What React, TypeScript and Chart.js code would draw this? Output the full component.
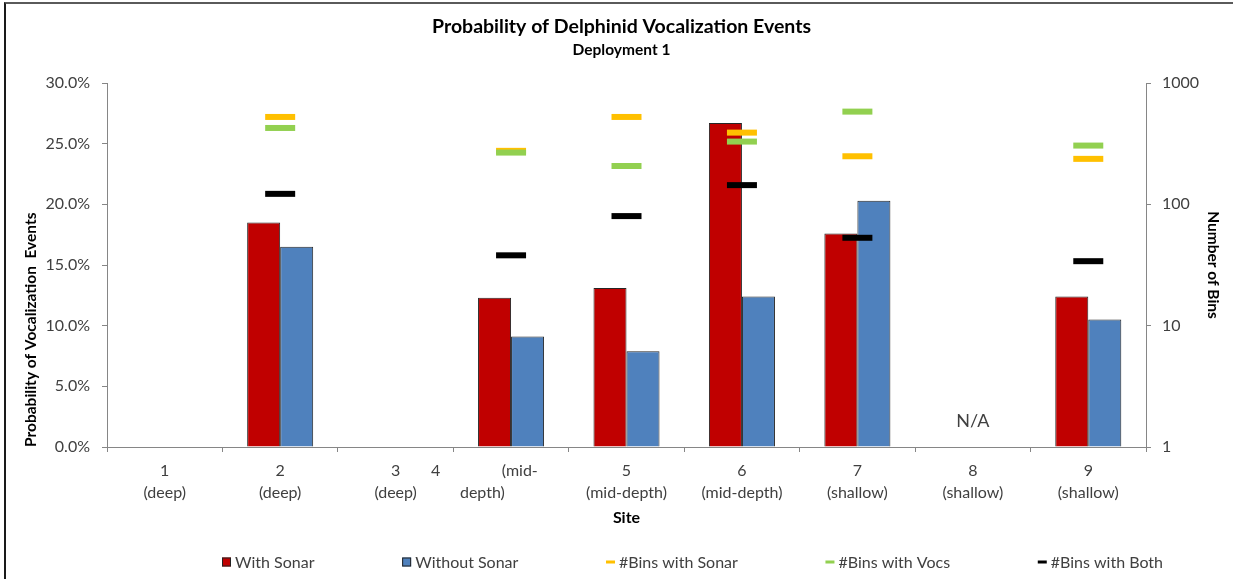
import { useEffect, useRef } from 'react';
import { Chart, registerables } from 'chart.js';

Chart.register(...registerables);

const SITE_LABELS: string[][] = [
  ['1', '(deep)'],
  ['2', '(deep)'],
  ['3', '(deep)'],
  ['4               (mid-             ', 'depth)              '],
  ['5', '(mid-depth)'],
  ['6', '(mid-depth)'],
  ['7', '(shallow)'],
  ['8', '(shallow)'],
  ['9', '(shallow)'],
];
const WITH_SONAR = [null, 18.5, null, 12.3, 13.1, 26.7, 17.6, null, 12.4];
const WITHOUT_SONAR = [null, 16.5, null, 9.1, 7.9, 12.4, 20.3, null, 10.5];
const BINS_WITH_SONAR = [null, 525, null, 276, 525, 390, 249, null, 237];
const BINS_WITH_VOCS = [null, 426, null, 267, 207, 329, 581, null, 305];
const BINS_WITH_BOTH = [null, 122, null, 38, 80, 144, 53, null, 34];
const LEFT_TICKS = [0, 5, 10, 15, 20, 25, 30];
const RIGHT_TICKS = [1, 10, 100, 1000];
const NA_SITE_INDEX = 7;
const NA_TEXT = 'N/A';
const NA_LEVEL = 2.1;

const FONT = 'Lato, "Open Sans", sans-serif';
const TEXT = '#404040';
const AXIS = '#868686';

const overlayPlugin = {
  id: 'overlay',
  afterDraw(chart: any) {
    const { ctx, scales } = chart;
    ctx.save();
    // N/A label
    ctx.font = `18px ${FONT}`;
    ctx.fillStyle = TEXT;
    ctx.textAlign = 'center';
    ctx.textBaseline = 'middle';
    ctx.fillText(NA_TEXT, scales.x.getPixelForValue(NA_SITE_INDEX), scales.y.getPixelForValue(NA_LEVEL));

    // legend
    const ds = chart.data.datasets;
    ctx.font = `16px ${FONT}`;
    const box = 9;
    const gap = 4;
    const widths = ds.map((d: any) => box + gap + ctx.measureText(d.label).width);
    const startX = 222;
    const endX = 1163;
    const total = widths.reduce((a: number, b: number) => a + b, 0);
    const pad = (endX - startX - total) / (ds.length - 1);
    const cy = 562;
    let x = startX;
    ds.forEach((d: any, i: number) => {
      if (d.type === 'bar' || !d.type) {
        ctx.fillStyle = d.backgroundColor;
        ctx.fillRect(x, cy - box / 2, box, box);
        ctx.strokeStyle = '#222';
        ctx.lineWidth = 1;
        ctx.strokeRect(x + 0.5, cy - box / 2 + 0.5, box - 1, box - 1);
      } else {
        ctx.fillStyle = d.pointBorderColor;
        ctx.fillRect(x, cy - 1.5, box, 3);
      }
      ctx.fillStyle = TEXT;
      ctx.textAlign = 'left';
      ctx.textBaseline = 'middle';
      ctx.fillText(d.label, x + box + gap, cy + 1);
      x += widths[i] + pad;
    });
    ctx.restore();
  },
};

function dash(label: string, data: (number | null)[], color: string, order: number) {
  return {
    type: 'line' as const,
    label,
    data,
    yAxisID: 'y1',
    showLine: false,
    order,
    pointStyle: 'line',
    pointRadius: 15,
    pointHoverRadius: 15,
    pointBorderWidth: 6,
    pointHoverBorderWidth: 6,
    pointBorderColor: color,
    pointBackgroundColor: color,
    borderColor: color,
    backgroundColor: color,
  };
}

export default function App() {
  const ref = useRef<HTMLCanvasElement | null>(null);

  useEffect(() => {
    document.body.style.margin = '0';
    const canvas = ref.current;
    if (!canvas) return;
    const chart = new Chart(canvas, {
      type: 'bar',
      data: {
        labels: SITE_LABELS,
        datasets: [
          {
            type: 'bar',
            label: 'With Sonar',
            data: WITH_SONAR,
            yAxisID: 'y',
            backgroundColor: '#C00000',
            borderColor: '#262626',
            borderWidth: 1,
            order: 10,
            categoryPercentage: 0.572,
            barPercentage: 1,
          },
          {
            type: 'bar',
            label: 'Without Sonar',
            data: WITHOUT_SONAR,
            yAxisID: 'y',
            backgroundColor: '#4F81BD',
            borderColor: '#262626',
            borderWidth: 1,
            order: 10,
            categoryPercentage: 0.572,
            barPercentage: 1,
          },
          dash('#Bins with Sonar', BINS_WITH_SONAR, '#FFC000', 3),
          dash('#Bins with Vocs', BINS_WITH_VOCS, '#92D050', 2),
          dash('#Bins with Both', BINS_WITH_BOTH, '#000000', 1),
        ] as any,
      },
      plugins: [overlayPlugin],
      options: {
        responsive: false,
        devicePixelRatio: 1,
        animation: false,
        events: [],
        layout: { padding: { left: 10, right: 0, top: 0, bottom: 42 } },
        plugins: {
          legend: { display: false },
          tooltip: { enabled: false },
          title: {
            display: true,
            text: 'Probability of Delphinid Vocalization Events',
            color: '#000',
            font: { family: FONT, size: 19.5, weight: 'bold', lineHeight: 1.2 },
            padding: { top: 15.3, bottom: 1.7 },
          },
          subtitle: {
            display: true,
            text: 'Deployment 1',
            color: '#000',
            font: { family: FONT, size: 15.5, weight: 'bold', lineHeight: 1.2 },
            padding: { top: 0, bottom: 24 },
          },
        },
        scales: {
          x: {
            type: 'category',
            offset: true,
            grid: { offset: true, drawOnChartArea: false, drawTicks: true, tickLength: 5, color: AXIS },
            border: { color: AXIS },
            ticks: {
              color: TEXT,
              font: { family: FONT, size: 16, lineHeight: 1.375 },
              padding: 8,
              maxRotation: 0,
              autoSkip: false,
            },
            title: {
              display: true,
              text: 'Site',
              color: '#000',
              font: { family: FONT, size: 16, weight: 'bold', lineHeight: 1.2 },
              padding: { top: 0, bottom: 9.4 },
            },
            afterFit: (s: any) => {
              s.height = 90;
            },
          },
          y: {
            type: 'linear',
            position: 'left',
            min: 0,
            max: 30,
            afterBuildTicks: (s: any) => {
              s.ticks = LEFT_TICKS.map((v) => ({ value: v }));
            },
            grid: { drawOnChartArea: false, drawTicks: true, tickLength: 5, color: AXIS },
            border: { color: AXIS },
            ticks: {
              color: TEXT,
              font: { family: FONT, size: 16 },
              padding: 12,
              callback: (v: any) => Number(v).toFixed(1) + '%',
            },
            title: {
              display: true,
              text: 'Probability of Vocalization  Events',
              align: 'start',
              color: '#000',
              font: { family: FONT, size: 15.5, weight: 'bold', lineHeight: 1.2 },
              padding: { top: 11.7, bottom: 0 },
            },
            afterFit: (s: any) => {
              s.width = 97;
            },
          },
          y1: {
            type: 'logarithmic',
            position: 'right',
            min: 1,
            max: 1000,
            afterBuildTicks: (s: any) => {
              s.ticks = RIGHT_TICKS.map((v) => ({ value: v }));
            },
            grid: { drawOnChartArea: false, drawTicks: true, tickLength: 5, color: AXIS },
            border: { color: AXIS },
            ticks: {
              color: TEXT,
              font: { family: FONT, size: 16 },
              padding: 11,
              callback: (v: any) => String(v),
            },
            title: {
              display: true,
              text: 'Number of Bins',
              color: '#000',
              font: { family: FONT, size: 15.5, weight: 'bold', lineHeight: 1.2 },
              padding: { top: 10.7, bottom: 0 },
            },
            afterFit: (s: any) => {
              s.width = 87;
            },
          },
        },
      } as any,
    });
    return () => chart.destroy();
  }, []);

  return (
    <div style={{ position: 'fixed', left: 0, top: 0, width: 1233, height: 579, background: '#fff', overflow: 'hidden' }}>
      <canvas ref={ref} width={1233} height={579} style={{ display: 'block', width: 1233, height: 579 }} />
      <div
        style={{
          position: 'absolute',
          left: 4,
          top: 2,
          width: 1300,
          height: 700,
          borderLeft: '2px solid #1a1a1a',
          borderTop: '2px solid #5a5a5a',
          pointerEvents: 'none',
        }}
      />
    </div>
  );
}
